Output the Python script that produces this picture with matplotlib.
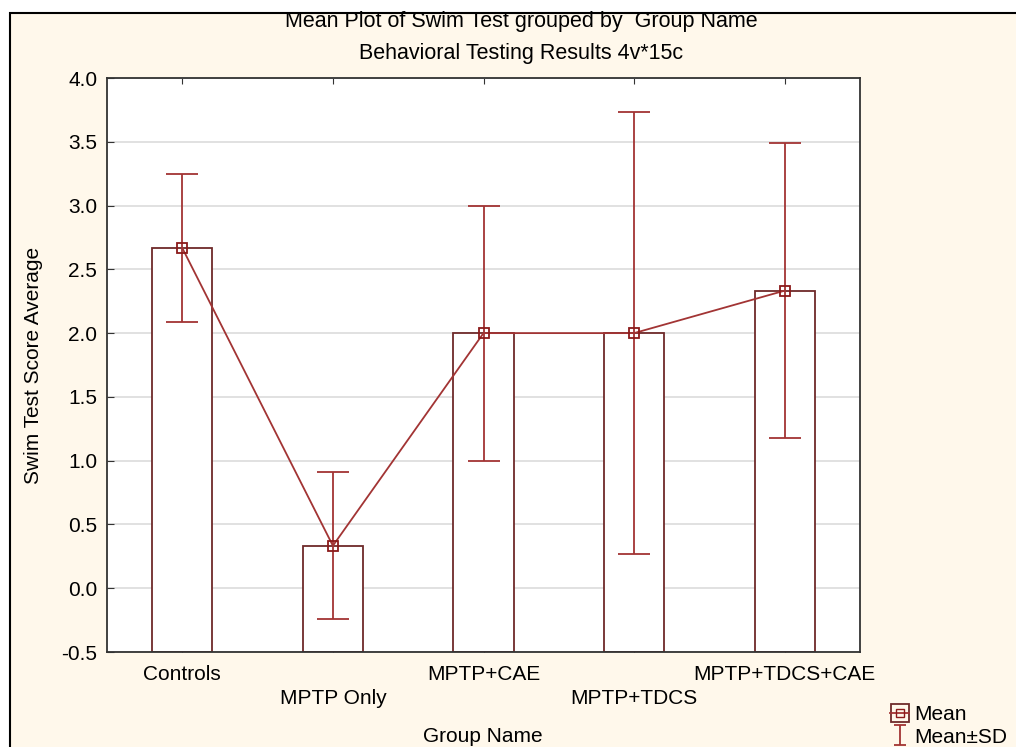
import numpy as np
import matplotlib.pyplot as plt
from matplotlib.patches import Rectangle
from matplotlib.lines import Line2D
from matplotlib.path import Path

groups = ['Controls', 'MPTP Only', 'MPTP+CAE', 'MPTP+TDCS', 'MPTP+TDCS+CAE']
means = [2.667, 0.333, 2.0, 2.0, 2.333]
sds = [0.577, 0.577, 1.0, 1.732, 1.155]
yticks = [-0.5, 0.0, 0.5, 1.0, 1.5, 2.0, 2.5, 3.0, 3.5, 4.0]

plt.rcParams['font.family'] = ['Liberation Sans', 'DejaVu Sans']

bg = '#FFF8EB'
bar_edge = '#6E2A2A'
red = '#A23434'

fig = plt.figure(figsize=(10.16, 7.47), dpi=100)
fig.patch.set_facecolor('white')

# cream panel with black frame (runs off the right/bottom edge)
frame = Rectangle((10/1016, -0.05), 1.1, 1 - 13/747 + 0.05, transform=fig.transFigure,
                  facecolor=bg, edgecolor='black', linewidth=1.5, zorder=-10)
fig.patches.append(frame)

ax = fig.add_axes([107/1016, 1 - 652/747, 753/1016, 574/747])
ax.set_facecolor('white')

x = np.arange(len(groups))
bottom = yticks[0]
ax.bar(x, np.array(means) - bottom, bottom=bottom, width=0.4, facecolor='white',
       edgecolor=bar_edge, linewidth=1.3, zorder=2)
ax.errorbar(x, means, yerr=sds, fmt='none', ecolor=red, elinewidth=1.3,
            capsize=11.5, capthick=1.3, zorder=3)
ax.plot(x, means, color=red, linewidth=1.3, marker='s', markersize=7,
        markerfacecolor='none', markeredgecolor='#8B1A1A', markeredgewidth=1.3, zorder=4)

ax.set_xlim(-0.5, 4.5)
ax.set_ylim(-0.5, 4.0)
ax.set_yticks(yticks)
ax.set_yticklabels(['%.1f' % v for v in yticks], fontsize=15)
ax.yaxis.grid(True, color='#DCDCDC', linewidth=1.2, zorder=0)
ax.set_axisbelow(True)

# stagger the category labels on two rows
ax.set_xticks(x)
ax.set_xticklabels([g if i % 2 == 0 else '\n' + g for i, g in enumerate(groups)],
                   fontsize=15, linespacing=1.35)
ax.tick_params(axis='x', direction='in', length=4, top=True, pad=9, color='#333333')
ax.tick_params(axis='y', direction='in', length=5, pad=7, color='#333333')
for s in ax.spines.values():
    s.set_color('#333333')
    s.set_linewidth(1.3)

ax.set_ylabel('Swim Test Score Average', fontsize=15, va='center')
ax.yaxis.set_label_coords(-0.097, 0.5)
ax.set_xlabel('Group Name', fontsize=15, va='center')
ax.xaxis.set_label_coords(0.4993, -0.148)

fig.text(521/1016, 1 - 22/747, 'Mean Plot of Swim Test grouped by  Group Name',
         ha='center', va='center', fontsize=15.5)
fig.text(521/1016, 1 - 53/747, 'Behavioral Testing Results 4v*15c',
         ha='center', va='center', fontsize=15.5)

# legend symbols
ibeam = Path([(-0.6, 1), (0.6, 1), (0, 1), (0, -1), (-0.6, -1), (0.6, -1)],
             [Path.MOVETO, Path.LINETO, Path.MOVETO, Path.LINETO, Path.MOVETO, Path.LINETO])
h_mean = (Line2D([], [], linestyle='None', marker='s', markersize=13, markerfacecolor='none',
                 markeredgecolor=bar_edge, markeredgewidth=1.3),
          Line2D([], [], color=red, linewidth=1.3, marker='s', markersize=6,
                 markerfacecolor='none', markeredgecolor='#8B1A1A'))
h_sd = Line2D([], [], linestyle='None', marker=ibeam, markersize=14, markerfacecolor='none',
              markeredgecolor=red, markeredgewidth=1.3)
fig.legend([h_mean, h_sd], ['Mean', 'Mean±SD'], loc='upper left',
           bbox_to_anchor=(880/1016, 1 - 695/747), frameon=False, fontsize=15,
           handlelength=0.9, handletextpad=0.25, labelspacing=0.15, borderpad=0)

fig.savefig('out.png', dpi=100, facecolor=fig.get_facecolor())
